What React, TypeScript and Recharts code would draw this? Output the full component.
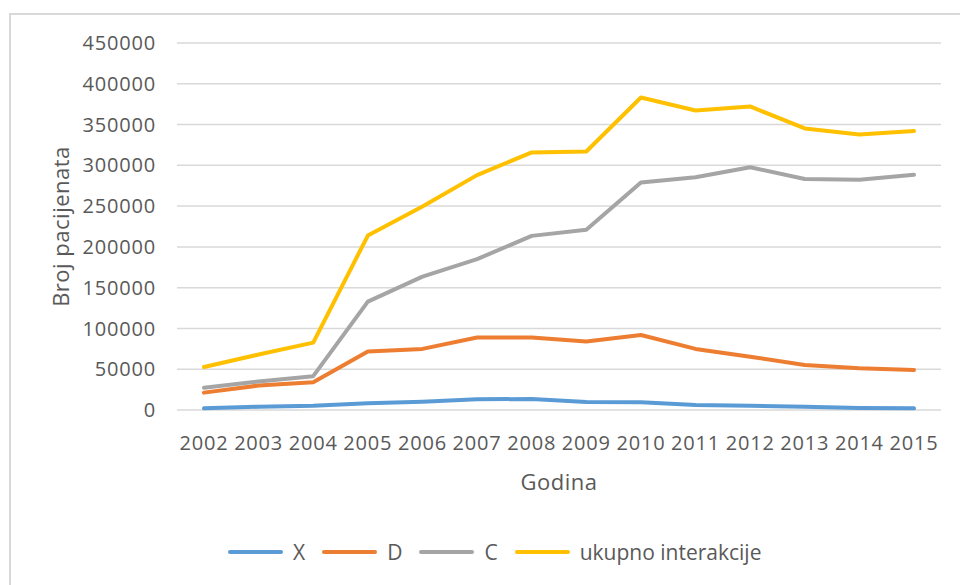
import { CartesianGrid, Line, LineChart, XAxis, YAxis } from "recharts"

// values
const years = ["2002", "2003", "2004", "2005", "2006", "2007", "2008", "2009", "2010", "2011", "2012", "2013", "2014", "2015"]
const xValues = [2000, 4000, 5300, 8200, 10200, 13100, 13500, 9800, 9400, 6100, 5300, 4100, 2500, 2000]
const dValues = [21300, 30000, 34000, 71600, 74900, 88800, 88800, 83900, 92000, 74900, 65400, 55200, 51100, 49100]
const cValues = [27400, 35000, 41500, 132900, 163600, 185000, 213500, 220900, 278900, 285400, 297700, 283300, 282200, 288400]
const totalValues = [52800, 68000, 82600, 213900, 249500, 288000, 315800, 317000, 383200, 367300, 372200, 345200, 337900, 342000]
const yTicks = [0, 50000, 100000, 150000, 200000, 250000, 300000, 350000, 400000, 450000]

const series = [
  { key: "X", color: "#5B9BD5" },
  { key: "D", color: "#ED7D31" },
  { key: "C", color: "#A5A5A5" },
  { key: "ukupno interakcije", color: "#FFC000" },
]

const data = years.map((year, i) => ({
  year,
  X: xValues[i],
  D: dValues[i],
  C: cValues[i],
  "ukupno interakcije": totalValues[i],
}))

const font = "'Open Sans', sans-serif"
const textColor = "#595959"
const tickStyle = { fill: textColor, fontSize: 20, fontFamily: font, letterSpacing: 0.8 }

function LegendBox() {
  return (
    <div
      style={{
        position: "absolute",
        left: 225,
        top: 538,
        display: "flex",
        alignItems: "center",
        fontFamily: font,
        fontSize: 21,
        color: textColor,
        whiteSpace: "nowrap",
      }}
    >
      {series.map((s) => (
        <div key={s.key} style={{ display: "flex", alignItems: "center", marginRight: 14 }}>
          <svg width={60} height={8}>
            <line x1={5} y1={4} x2={56} y2={4} stroke={s.color} strokeWidth={4} strokeLinecap="round" />
          </svg>
          <span style={{ marginLeft: 8 }}>{s.key}</span>
        </div>
      ))}
    </div>
  )
}

export default function App() {
  return (
    <div style={{ position: "absolute", left: 0, top: 0, width: 960, height: 585, overflow: "hidden", background: "#fff" }}>
      <div
        style={{
          position: "absolute",
          left: 9,
          top: 13,
          width: 1000,
          height: 620,
          border: "2px solid #D9D9D9",
          boxSizing: "border-box",
        }}
      />
      <div style={{ position: "absolute", left: 0, top: 0 }}>
        <LineChart width={960} height={585} data={data} margin={{ top: 43, right: 19, left: 0, bottom: 115 }}>
          <CartesianGrid vertical={false} stroke="#D9D9D9" strokeWidth={1.5} />
          <XAxis
            dataKey="year"
            axisLine={false}
            tickLine={false}
            tickMargin={20}
            height={60}
            interval={0}
            padding={{ left: 27, right: 27 }}
            tick={tickStyle}
            label={() => (
              <text
                x={559}
                y={481}
                textAnchor="middle"
                dominantBaseline="central"
                fill={textColor}
                fontSize={22}
                fontFamily={font}
                letterSpacing={0.5}
              >
                Godina
              </text>
            )}
          />
          <YAxis
            width={177}
            domain={[0, 450000]}
            ticks={yTicks}
            axisLine={false}
            tickLine={false}
            tickMargin={15}
            tick={tickStyle}
            label={({ viewBox }: any) => (
              <text
                x={60}
                y={viewBox.y + viewBox.height / 2}
                transform={`rotate(-90 60 ${viewBox.y + viewBox.height / 2})`}
                textAnchor="middle"
                dominantBaseline="central"
                fill={textColor}
                fontSize={22}
                fontFamily={font}
                letterSpacing={0.5}
              >
                Broj pacijenata
              </text>
            )}
          />
          {series.map((s) => (
            <Line
              key={s.key}
              type="linear"
              dataKey={s.key}
              stroke={s.color}
              strokeWidth={4}
              strokeLinecap="round"
              strokeLinejoin="round"
              dot={false}
              isAnimationActive={false}
            />
          ))}
        </LineChart>
      </div>
      <LegendBox />
    </div>
  )
}
